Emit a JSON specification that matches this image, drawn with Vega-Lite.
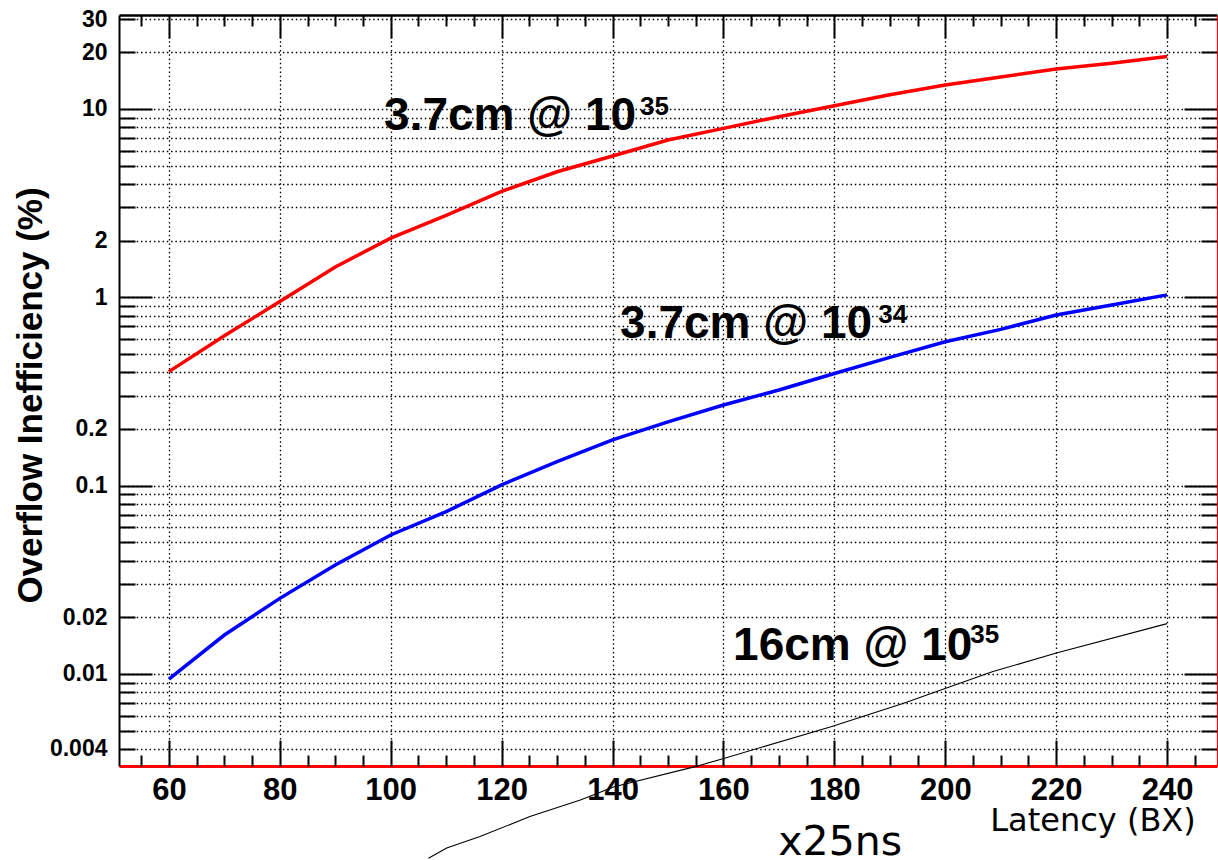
{
  "$schema": "https://vega.github.io/schema/vega-lite/v6.json",
  "autosize": {"type": "none"},
  "padding": {"left": 119, "top": 15, "right": 1, "bottom": 94},
  "width": 1098,
  "height": 751,
  "background": "white",
  "config": {"view": {"stroke": null}, "font": "Liberation Sans"},
  "datasets": {
    "curves": [
      {"latency": 60, "ineff": 0.403, "series": "3.7cm @ 1e35"},
      {"latency": 70, "ineff": 0.625, "series": "3.7cm @ 1e35"},
      {"latency": 80, "ineff": 0.95, "series": "3.7cm @ 1e35"},
      {"latency": 90, "ineff": 1.45, "series": "3.7cm @ 1e35"},
      {"latency": 100, "ineff": 2.06, "series": "3.7cm @ 1e35"},
      {"latency": 110, "ineff": 2.72, "series": "3.7cm @ 1e35"},
      {"latency": 120, "ineff": 3.65, "series": "3.7cm @ 1e35"},
      {"latency": 130, "ineff": 4.64, "series": "3.7cm @ 1e35"},
      {"latency": 140, "ineff": 5.63, "series": "3.7cm @ 1e35"},
      {"latency": 150, "ineff": 6.84, "series": "3.7cm @ 1e35"},
      {"latency": 160, "ineff": 7.89, "series": "3.7cm @ 1e35"},
      {"latency": 170, "ineff": 9.1, "series": "3.7cm @ 1e35"},
      {"latency": 180, "ineff": 10.4, "series": "3.7cm @ 1e35"},
      {"latency": 190, "ineff": 11.9, "series": "3.7cm @ 1e35"},
      {"latency": 200, "ineff": 13.4, "series": "3.7cm @ 1e35"},
      {"latency": 210, "ineff": 14.8, "series": "3.7cm @ 1e35"},
      {"latency": 220, "ineff": 16.3, "series": "3.7cm @ 1e35"},
      {"latency": 230, "ineff": 17.5, "series": "3.7cm @ 1e35"},
      {"latency": 240, "ineff": 19.0, "series": "3.7cm @ 1e35"},
      {"latency": 60, "ineff": 0.0094, "series": "3.7cm @ 1e34"},
      {"latency": 70, "ineff": 0.0161, "series": "3.7cm @ 1e34"},
      {"latency": 80, "ineff": 0.0252, "series": "3.7cm @ 1e34"},
      {"latency": 90, "ineff": 0.0379, "series": "3.7cm @ 1e34"},
      {"latency": 100, "ineff": 0.0547, "series": "3.7cm @ 1e34"},
      {"latency": 110, "ineff": 0.0728, "series": "3.7cm @ 1e34"},
      {"latency": 120, "ineff": 0.101, "series": "3.7cm @ 1e34"},
      {"latency": 130, "ineff": 0.134, "series": "3.7cm @ 1e34"},
      {"latency": 140, "ineff": 0.175, "series": "3.7cm @ 1e34"},
      {"latency": 150, "ineff": 0.218, "series": "3.7cm @ 1e34"},
      {"latency": 160, "ineff": 0.268, "series": "3.7cm @ 1e34"},
      {"latency": 170, "ineff": 0.322, "series": "3.7cm @ 1e34"},
      {"latency": 180, "ineff": 0.394, "series": "3.7cm @ 1e34"},
      {"latency": 190, "ineff": 0.48, "series": "3.7cm @ 1e34"},
      {"latency": 200, "ineff": 0.581, "series": "3.7cm @ 1e34"},
      {"latency": 210, "ineff": 0.676, "series": "3.7cm @ 1e34"},
      {"latency": 220, "ineff": 0.805, "series": "3.7cm @ 1e34"},
      {"latency": 230, "ineff": 0.91, "series": "3.7cm @ 1e34"},
      {"latency": 240, "ineff": 1.03, "series": "3.7cm @ 1e34"},
      {"latency": 106.8, "ineff": 0.00105, "series": "16cm @ 1e35"},
      {"latency": 110.1, "ineff": 0.00119, "series": "16cm @ 1e35"},
      {"latency": 116.1, "ineff": 0.00137, "series": "16cm @ 1e35"},
      {"latency": 125.1, "ineff": 0.00175, "series": "16cm @ 1e35"},
      {"latency": 134.2, "ineff": 0.00214, "series": "16cm @ 1e35"},
      {"latency": 140.3, "ineff": 0.00252, "series": "16cm @ 1e35"},
      {"latency": 154.9, "ineff": 0.00322, "series": "16cm @ 1e35"},
      {"latency": 160.2, "ineff": 0.00357, "series": "16cm @ 1e35"},
      {"latency": 179.4, "ineff": 0.00525, "series": "16cm @ 1e35"},
      {"latency": 192.5, "ineff": 0.00699, "series": "16cm @ 1e35"},
      {"latency": 200.6, "ineff": 0.0085, "series": "16cm @ 1e35"},
      {"latency": 208.6, "ineff": 0.0103, "series": "16cm @ 1e35"},
      {"latency": 220.2, "ineff": 0.01297, "series": "16cm @ 1e35"},
      {"latency": 240, "ineff": 0.0185, "series": "16cm @ 1e35"}
    ],
    "labels": [
      {"lx": 98.8, "ly": 7.735, "label": "3.7cm @ 10"},
      {"lx": 141.36, "ly": 0.6056, "label": "3.7cm @ 10"},
      {"lx": 161.74, "ly": 0.011866, "label": "16cm @ 10"}
    ],
    "sups": [
      {"sx": 144.97, "sy": 9.29, "sup": "35"},
      {"sx": 187.9, "sy": 0.7277, "sup": "34"},
      {"sx": 204.49, "sy": 0.01455, "sup": "35"}
    ],
    "notes": [
      {"nx": 181.05, "ny": 0.00109, "note": "x25ns"}
    ]
  },
  "resolve": {"axis": {"x": "independent", "y": "independent"}},
  "layer": [
    {
      "data": {"name": "curves"},
      "transform": [{"filter": "datum.series !== '16cm @ 1e35'"}],
      "mark": {"type": "line", "strokeWidth": 3.5, "clip": false},
      "encoding": {
        "x": {
          "field": "latency", "type": "quantitative",
          "scale": {"domain": [51, 249], "nice": false, "zero": false},
          "axis": {
            "orient": "bottom",
            "values": [60, 80, 100, 120, 140, 160, 180, 200, 220, 240],
            "ticks": false,
            "grid": true, "gridDash": [1.5, 2.8], "gridColor": "#000", "gridWidth": 1.3,
            "domainColor": "#ff0000", "domainWidth": 3,
            "labelFont": "Liberation Sans", "labelFontWeight": "bold", "labelFontSize": 31,
            "labelColor": "#000", "labelPadding": 9, "labelBaseline": "top",
            "labelFlush": false, "labelOverlap": false,
            "title": "Latency (BX)", "titleFont": "DejaVu Sans", "titleFontWeight": "normal",
            "titleFontSize": 32, "titleColor": "#000", "titleX": 973.5, "titleY": 64,
            "titleAlign": "center", "titleBaseline": "alphabetic", "titleAnchor": null
          }
        },
        "y": {
          "field": "ineff", "type": "quantitative",
          "scale": {"type": "log", "domain": [0.003246, 31.55], "nice": false},
          "axis": {
            "orient": "left",
            "values": [0.004, 0.005, 0.006, 0.007, 0.008, 0.009, 0.01, 0.02, 0.03, 0.04, 0.05, 0.06, 0.07, 0.08, 0.09, 0.1, 0.2, 0.3, 0.4, 0.5, 0.6, 0.7, 0.8, 0.9, 1, 2, 3, 4, 5, 6, 7, 8, 9, 10, 20, 30],
            "format": "~g",
            "labelExpr": "indexof([30, 20, 10, 2, 1, 0.2, 0.1, 0.02, 0.01, 0.004], datum.value) >= 0 ? datum.label : ''",
            "ticks": false,
            "grid": true, "gridDash": [1.5, 2.8], "gridColor": "#000", "gridWidth": 1.3,
            "domainColor": "#000", "domainWidth": 2,
            "labelFont": "Liberation Sans", "labelFontWeight": "bold", "labelFontSize": 23,
            "labelColor": "#000", "labelPadding": 12, "labelAlign": "right", "labelBaseline": "middle",
            "labelFlush": false, "labelOverlap": false,
            "title": "Overflow Inefficiency (%)", "titleFont": "Liberation Sans", "titleFontWeight": "bold",
            "titleFontSize": 35, "titleColor": "#000", "titleAngle": -90,
            "titleX": -89, "titleY": 380, "titleAlign": "center", "titleBaseline": "middle", "titleAnchor": null
          }
        },
        "color": {
          "field": "series", "type": "nominal",
          "scale": {"domain": ["3.7cm @ 1e35", "3.7cm @ 1e34"], "range": ["#ff0000", "#0000ff"]},
          "legend": null
        }
      }
    },
    {
      "data": {"name": "curves"},
      "transform": [{"filter": "datum.series === '16cm @ 1e35'"}],
      "mark": {"type": "line", "strokeWidth": 1.1, "color": "#000", "clip": false},
      "encoding": {
        "x": {"field": "latency", "type": "quantitative", "scale": {"domain": [51, 249], "nice": false, "zero": false}, "axis": null},
        "y": {"field": "ineff", "type": "quantitative", "scale": {"type": "log", "domain": [0.003246, 31.55], "nice": false}, "axis": null}
      }
    },
    {
      "data": {"name": "labels"},
      "mark": {"type": "text", "font": "Liberation Sans", "fontWeight": "bold", "fontSize": 46, "align": "left", "baseline": "alphabetic", "color": "#000"},
      "encoding": {
        "x": {
          "field": "lx", "type": "quantitative",
          "scale": {"domain": [51, 249], "nice": false, "zero": false},
          "axis": {
            "orient": "top", "labels": false, "grid": false, "title": null,
            "values": [55, 60, 65, 70, 75, 80, 85, 90, 95, 100, 105, 110, 115, 120, 125, 130, 135, 140, 145, 150, 155, 160, 165, 170, 175, 180, 185, 190, 195, 200, 205, 210, 215, 220, 225, 230, 235, 240, 245],
            "tickSize": {"condition": {"test": "datum.value % 20 === 0", "value": -23}, "value": -11},
            "tickColor": "#000", "tickWidth": 2,
            "domainColor": "#000", "domainWidth": 2.5
          }
        },
        "y": {
          "field": "ly", "type": "quantitative",
          "scale": {"type": "log", "domain": [0.003246, 31.55], "nice": false},
          "axis": {
            "orient": "right", "labels": false, "grid": false, "title": null,
            "values": [0.004, 0.005, 0.006, 0.007, 0.008, 0.009, 0.01, 0.02, 0.03, 0.04, 0.05, 0.06, 0.07, 0.08, 0.09, 0.1, 0.2, 0.3, 0.4, 0.5, 0.6, 0.7, 0.8, 0.9, 1, 2, 3, 4, 5, 6, 7, 8, 9, 10, 20, 30],
            "tickSize": {"condition": {"test": "datum.value === 10 || datum.value === 1 || datum.value === 0.1 || datum.value === 0.01", "value": -33}, "value": -16},
            "tickColor": "#000", "tickWidth": 2,
            "domainColor": "#ff0000", "domainWidth": 1.2
          }
        },
        "text": {"field": "label"}
      }
    },
    {
      "data": {"name": "sups"},
      "mark": {"type": "text", "font": "Liberation Sans", "fontWeight": "bold", "fontSize": 26, "align": "left", "baseline": "alphabetic", "color": "#000"},
      "encoding": {
        "x": {
          "field": "sx", "type": "quantitative",
          "scale": {"domain": [51, 249], "nice": false, "zero": false},
          "axis": {
            "orient": "bottom", "labels": false, "grid": false, "title": null, "domain": false,
            "values": [55, 60, 65, 70, 75, 80, 85, 90, 95, 100, 105, 110, 115, 120, 125, 130, 135, 140, 145, 150, 155, 160, 165, 170, 175, 180, 185, 190, 195, 200, 205, 210, 215, 220, 225, 230, 235, 240, 245],
            "tickSize": {"condition": {"test": "datum.value % 20 === 0", "value": -26}, "value": -11},
            "tickColor": "#000", "tickWidth": 2
          }
        },
        "y": {
          "field": "sy", "type": "quantitative",
          "scale": {"type": "log", "domain": [0.003246, 31.55], "nice": false},
          "axis": {
            "orient": "left", "labels": false, "grid": false, "title": null, "domain": false,
            "values": [0.004, 0.005, 0.006, 0.007, 0.008, 0.009, 0.01, 0.02, 0.03, 0.04, 0.05, 0.06, 0.07, 0.08, 0.09, 0.1, 0.2, 0.3, 0.4, 0.5, 0.6, 0.7, 0.8, 0.9, 1, 2, 3, 4, 5, 6, 7, 8, 9, 10, 20, 30],
            "tickSize": {"condition": {"test": "datum.value === 10 || datum.value === 1 || datum.value === 0.1 || datum.value === 0.01", "value": -33}, "value": -16},
            "tickColor": "#000", "tickWidth": 2
          }
        },
        "text": {"field": "sup"}
      }
    },
    {
      "data": {"name": "notes"},
      "mark": {"type": "text", "font": "DejaVu Sans", "fontSize": 41, "align": "center", "baseline": "alphabetic", "color": "#000"},
      "encoding": {
        "x": {"field": "nx", "type": "quantitative", "scale": {"domain": [51, 249], "nice": false, "zero": false}, "axis": null},
        "y": {"field": "ny", "type": "quantitative", "scale": {"type": "log", "domain": [0.003246, 31.55], "nice": false}, "axis": null},
        "text": {"field": "note"}
      }
    }
  ]
}
